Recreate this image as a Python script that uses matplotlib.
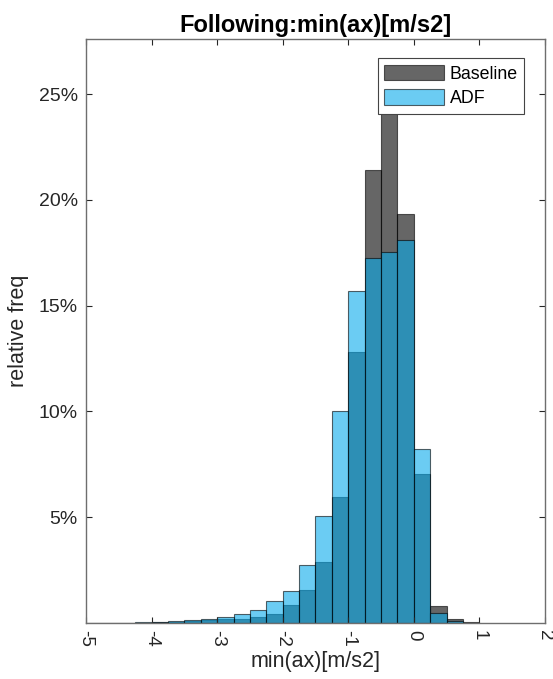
import numpy as np
import matplotlib
matplotlib.use("Agg")
import matplotlib.pyplot as plt
from matplotlib.ticker import PercentFormatter

plt.rcParams['font.family'] = ['Liberation Sans', 'DejaVu Sans']

# histogram bins: 0.25 m/s2 wide, from -5 to 1
edges = np.arange(-5.0, 1.0001, 0.25)

# relative frequency per bin (fraction)
baseline = [0.0, 0.00005, 0.0001, 0.0002, 0.0003, 0.0005, 0.0010, 0.0012,
            0.0017, 0.0020, 0.0028, 0.0044, 0.0087, 0.0155, 0.0288, 0.0596,
            0.1280, 0.2140, 0.2570, 0.1931, 0.0703, 0.0080, 0.0020, 0.0005]
adf = [0.0, 0.0001, 0.0002, 0.0003, 0.0005, 0.0008, 0.0015, 0.0020,
       0.0028, 0.0044, 0.0063, 0.0104, 0.0151, 0.0274, 0.0506, 0.1000,
       0.1569, 0.1727, 0.1753, 0.1809, 0.0820, 0.0047, 0.0011, 0.0001]

xticks = list(range(-5, 3))
yticks = [0.05, 0.10, 0.15, 0.20, 0.25]

fig = plt.figure(figsize=(5.53, 6.79), dpi=100)
ax = fig.add_axes([0.1555, 0.0825, 0.830, 0.860])

lefts = edges[:-1]
w = edges[1] - edges[0]
ax.bar(lefts, baseline, width=w, align='edge', color='black', alpha=0.6,
       edgecolor='black', linewidth=0.8, label='Baseline')
ax.bar(lefts, adf, width=w, align='edge', color=(0.03, 0.67, 0.92), alpha=0.6,
       edgecolor='black', linewidth=0.8, label='ADF')

ax.set_xlim(-5, 2)
ax.set_ylim(0, 0.276)
ax.set_xticks(xticks)
ax.set_xticklabels([str(v) for v in xticks], rotation=-90)
ax.set_yticks(yticks)
ax.yaxis.set_major_formatter(PercentFormatter(1.0, decimals=0))

ax.tick_params(direction='in', top=True, right=True, labelsize=14,
               length=4.5, width=0.8, colors='#262626', pad=6)
ax.tick_params(axis='x', labelsize=13.5, pad=5)
for s in ax.spines.values():
    s.set_color('#6e6e6e')
    s.set_linewidth(1.0)

ax.set_xlabel('min(ax)[m/s2]', fontsize=15.5, color='#262626', labelpad=3)
ax.set_ylabel('relative freq', fontsize=15.5, color='#262626', labelpad=7)
ax.set_title('Following:min(ax)[m/s2]', fontsize=17, fontweight='bold', pad=5)

leg = ax.legend(loc='upper right', bbox_to_anchor=(0.955, 0.967), fontsize=12.8,
                fancybox=False, framealpha=1, edgecolor='#444444',
                handlelength=3.35, handleheight=1.0, borderpad=0.35,
                labelspacing=0.38, handletextpad=0.35, borderaxespad=0)
leg.get_frame().set_linewidth(0.8)

fig.savefig('out.png', dpi=100)
